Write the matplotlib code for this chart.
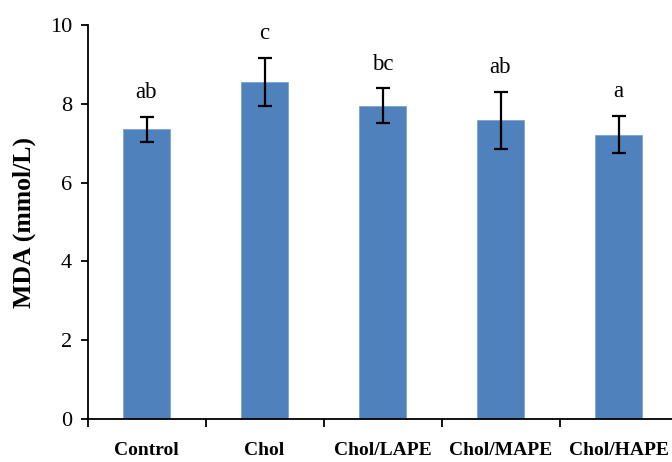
import matplotlib.pyplot as plt
import numpy as np

# datos
grupos = ['Control', 'Chol', 'Chol/LAPE', 'Chol/MAPE', 'Chol/HAPE']
mda = [7.35, 8.55, 7.95, 7.58, 7.22]
error = [0.32, 0.61, 0.44, 0.73, 0.48]
letras = ['ab', 'c', 'bc', 'ab', 'a']

plt.rcParams['font.family'] = ['Liberation Serif', 'DejaVu Serif']

fig = plt.figure(figsize=(6.72, 4.62), dpi=100)
ax = fig.add_axes([87.5 / 672, 1 - 419 / 462, 590 / 672, (419 - 25) / 462])

x = np.arange(len(grupos))
ax.bar(x, mda, width=0.39, color='#4F81BD', edgecolor='#7FA3D3', linewidth=0.6, zorder=2)
ax.errorbar(x, mda, yerr=error, fmt='none', ecolor='black', elinewidth=1.6,
            capsize=5, capthick=1.6, zorder=3)

for xi, v, e, letra in zip(x, mda, error, letras):
    ax.annotate(letra, (xi, v + e), xytext=(0, 10), textcoords='offset points',
                ha='center', va='bottom', fontsize=16.5)

ax.set_xlim(-0.5, len(grupos) - 0.5)
ax.set_ylim(0, 10)
ax.set_yticks([0, 2, 4, 6, 8, 10])
ax.tick_params(axis='y', direction='out', length=5, width=1.3, labelsize=16, pad=6)

ax.set_xticks(x)
ax.set_xticklabels(grupos, fontsize=14, fontweight='bold')
ax.tick_params(axis='x', which='major', length=0, pad=16.5)
ax.set_xticks(np.arange(-0.5, len(grupos)), minor=True)
ax.tick_params(axis='x', which='minor', direction='out', length=6, width=1.3)

ax.set_ylabel('MDA (mmol/L)', fontsize=18.5, fontweight='bold', labelpad=10)

for s in ['top', 'right']:
    ax.spines[s].set_visible(False)
for s in ['left', 'bottom']:
    ax.spines[s].set_linewidth(1.3)

fig.savefig('out.png', dpi=100)
